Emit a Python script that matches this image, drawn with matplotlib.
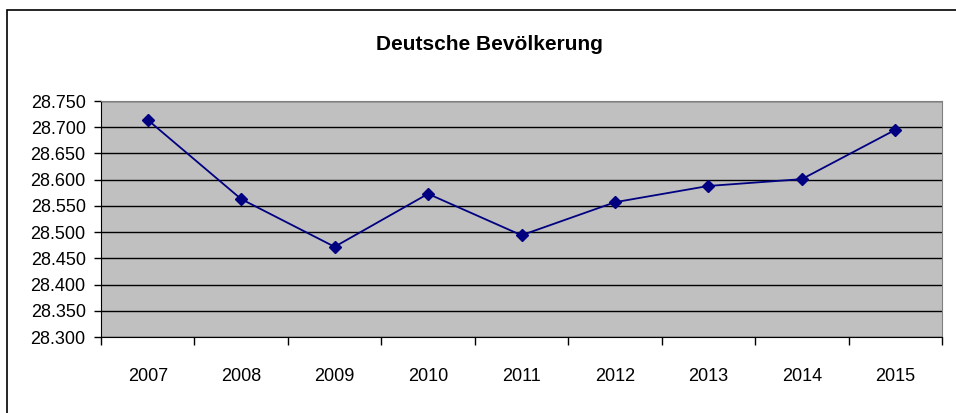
import numpy as np
import matplotlib
matplotlib.use("Agg")
import matplotlib.pyplot as plt
from matplotlib.ticker import FuncFormatter, MultipleLocator

plt.rcParams['font.family'] = ['Liberation Sans', 'DejaVu Sans']

years = ['2007', '2008', '2009', '2010', '2011', '2012', '2013', '2014', '2015']
population = [28.714, 28.563, 28.472, 28.573, 28.494, 28.557, 28.588, 28.601, 28.695]

fig = plt.figure(figsize=(9.56, 4.13), dpi=100)
ax = fig.add_axes([101 / 956, 1 - 337 / 413, 841 / 956, 236 / 413])

# chart border (only left and top edges visible in the reference)
fig.add_artist(plt.Rectangle((6.5 / 956, -0.1), 1.2, 1 - 9.5 / 413 + 0.1,
                             transform=fig.transFigure, fill=False,
                             edgecolor='black', linewidth=1.2))

ax.set_facecolor('#c0c0c0')
x = np.arange(len(years))
ax.plot(x, population, color='#000080', linewidth=1.3, marker='D',
        markersize=6.5, markerfacecolor='#000080', markeredgecolor='#000080')

ax.set_xlim(-0.5, len(years) - 0.5)
ax.set_ylim(28.3, 28.75)
ax.yaxis.set_major_locator(MultipleLocator(0.05))
ax.yaxis.set_major_formatter(FuncFormatter(lambda v, p: f"{v:.3f}"))
ax.grid(axis='y', color='black', linewidth=1.0)
ax.set_axisbelow(True)

ax.set_xticks(x)
ax.set_xticklabels(years)
ax.set_xticks(np.arange(-0.5, len(years)), minor=True)
ax.tick_params(axis='x', which='major', length=0, pad=22, labelsize=13)
ax.tick_params(axis='x', which='minor', length=6, width=1, color='black')
ax.tick_params(axis='y', length=5, width=1, pad=6, labelsize=13)

for side in ['top', 'right']:
    ax.spines[side].set_color('#808080')
for side in ['left', 'bottom']:
    ax.spines[side].set_color('black')

fig.text(489 / 956, 1 - 45 / 413, 'Deutsche Bevölkerung', ha='center',
         va='center', fontsize=15, fontweight='bold')

fig.savefig('out.png', dpi=100)
